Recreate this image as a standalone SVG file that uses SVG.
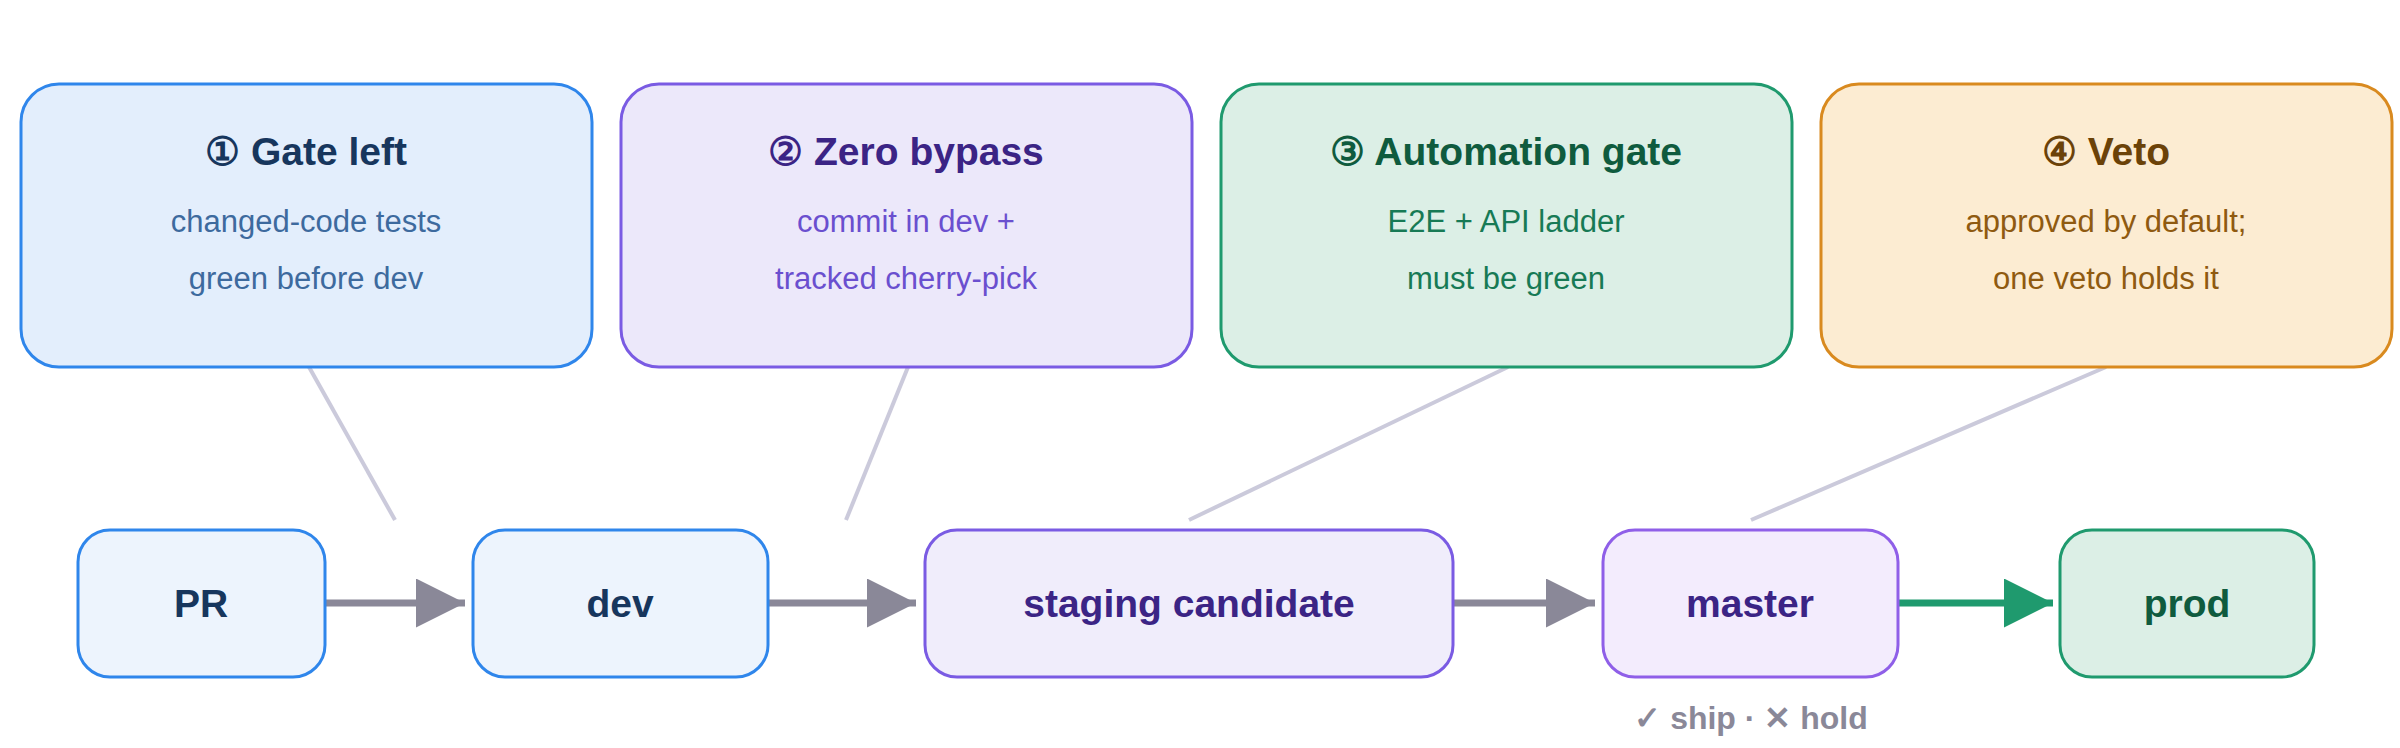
<svg xmlns="http://www.w3.org/2000/svg" width="2400" height="748" viewBox="0 0 2400 748">
<defs>
<style>
text{font-family:"Liberation Sans",Arial,sans-serif;text-anchor:middle}
.t{font-size:39px;font-weight:bold}
.s{font-size:31px}
.n{font-size:39px;font-weight:bold}
.box{stroke-width:3}
.lead{stroke:#cbcadb;stroke-width:4;fill:none}
.arr{stroke:#8a8898;stroke-width:7;fill:none}
</style>
<marker id="ag" viewBox="0 0 10 10" refX="10" refY="5" markerWidth="7" markerHeight="7" markerUnits="strokeWidth" orient="auto"><path d="M0,0L10,5L0,10z" fill="#8a8898"/></marker>
<marker id="ak" viewBox="0 0 10 10" refX="10" refY="5" markerWidth="7" markerHeight="7" markerUnits="strokeWidth" orient="auto"><path d="M0,0L10,5L0,10z" fill="#1f9a6e"/></marker>
</defs>
<rect width="2400" height="748" fill="#fff"/>
<g id="connectors">
<line class="lead" x1="309" y1="367" x2="395" y2="520"/>
<line class="lead" x1="908" y1="367" x2="846" y2="520"/>
<line class="lead" x1="1508" y1="367" x2="1189" y2="520"/>
<line class="lead" x1="2106" y1="367" x2="1751" y2="520"/>
<line class="arr" x1="325" y1="603" x2="465" y2="603" marker-end="url(#ag)"/>
<line class="arr" x1="768" y1="603" x2="916" y2="603" marker-end="url(#ag)"/>
<line class="arr" x1="1453" y1="603" x2="1595" y2="603" marker-end="url(#ag)"/>
<line class="arr" x1="1898" y1="603" x2="2053" y2="603" stroke="#1f9a6e" style="stroke:#1f9a6e" marker-end="url(#ak)"/>
</g>
<g id="gate1"><rect class="box" x="21" y="84" width="571" height="283" rx="38" fill="#e3eefc" stroke="#2f86eb"/>
<text class="t" x="306" y="165" fill="#17365d">① Gate left</text>
<text class="s" x="306" y="232" fill="#3d6a9e">changed-code tests</text>
<text class="s" x="306" y="289" fill="#3d6a9e">green before dev</text></g>
<g id="gate2"><rect class="box" x="621" y="84" width="571" height="283" rx="38" fill="#ece8fa" stroke="#7a5be3"/>
<text class="t" x="906" y="165" fill="#3b2485">② Zero bypass</text>
<text class="s" x="906" y="232" fill="#6a4fcf">commit in dev +</text>
<text class="s" x="906" y="289" fill="#6a4fcf">tracked cherry-pick</text></g>
<g id="gate3"><rect class="box" x="1221" y="84" width="571" height="283" rx="38" fill="#dcefe6" stroke="#1f9a6e"/>
<text class="t" x="1506" y="165" fill="#0f5b3e">③ Automation gate</text>
<text class="s" x="1506" y="232" fill="#177a55">E2E + API ladder</text>
<text class="s" x="1506" y="289" fill="#177a55">must be green</text></g>
<g id="gate4"><rect class="box" x="1821" y="84" width="571" height="283" rx="38" fill="#fcecd2" stroke="#d98a1f"/>
<text class="t" x="2106" y="165" fill="#6b4208">④ Veto</text>
<text class="s" x="2106" y="232" fill="#8f5a10">approved by default;</text>
<text class="s" x="2106" y="289" fill="#8f5a10">one veto holds it</text></g>
<g id="pr"><rect class="box" x="78" y="530" width="247" height="147" rx="32" fill="#edf4fd" stroke="#2f86eb"/><text class="n" x="201" y="617" fill="#17365d">PR</text></g>
<g id="dev"><rect class="box" x="473" y="530" width="295" height="147" rx="32" fill="#edf4fd" stroke="#2f86eb"/><text class="n" x="620" y="617" fill="#17365d">dev</text></g>
<g id="staging"><rect class="box" x="925" y="530" width="528" height="147" rx="32" fill="#f0edfb" stroke="#7a5be3"/><text class="n" x="1189" y="617" fill="#3b2485">staging candidate</text></g>
<g id="master"><rect class="box" x="1603" y="530" width="295" height="147" rx="32" fill="#f3ecfd" stroke="#8f5fe8"/><text class="n" x="1750" y="617" fill="#3b2485">master</text>
<text x="1751" y="729" font-size="32" font-weight="bold" fill="#8a8898">✓ ship · ✕ hold</text></g>
<g id="prod"><rect class="box" x="2060" y="530" width="254" height="147" rx="32" fill="#dcefe6" stroke="#1f9a6e"/><text class="n" x="2187" y="617" fill="#0f5b3e">prod</text></g>
</svg>
